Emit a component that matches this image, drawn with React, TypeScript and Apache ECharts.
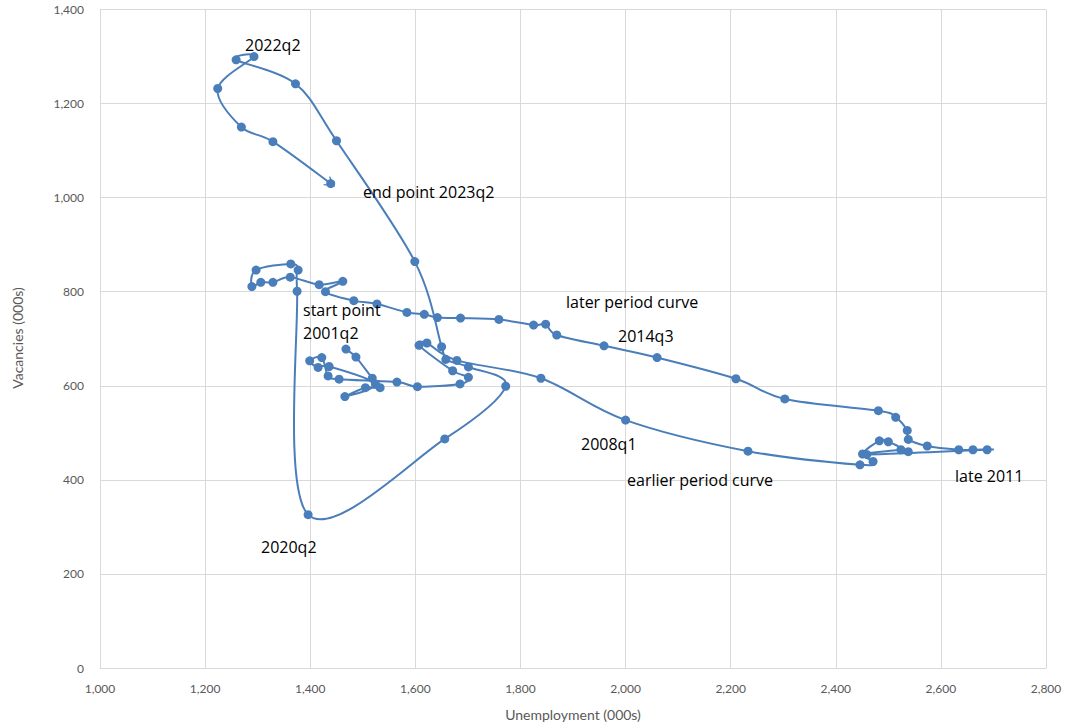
import React, { useEffect, useRef } from "react";
import * as echarts from "echarts";

// Unemployment (000s), quarterly path 2001q2 -> 2023q2
const unemployment = [
  1468, 1487, 1518, 1533, 1505, 1466, 1524, 1436, 1415, 1399, 1422, 1434, 1455,
  1565, 1604, 1685, 1701, 1671, 1607, 1622, 1679, 1839, 2000, 2233, 2446, 2471,
  2451, 2483, 2500, 2538, 2524, 2459, 2688, 2661, 2634, 2574, 2538, 2536, 2514,
  2481, 2303, 2210, 2060, 1959, 1869, 1848, 1825, 1759, 1686, 1642, 1617, 1584,
  1527, 1483, 1429, 1462, 1417, 1362, 1329, 1306, 1289, 1297, 1363, 1377, 1375,
  1396, 1656, 1772, 1701, 1658, 1650, 1599, 1450, 1372, 1259, 1293, 1224, 1269,
  1329, 1439,
];
// Vacancies (000s)
const vacancies = [
  678, 661, 616, 596, 596, 577, 604, 641, 639, 653, 660, 621, 614,
  608, 598, 604, 618, 632, 686, 691, 654, 616, 527, 461, 432, 439,
  455, 483, 481, 460, 464, 454, 464, 464, 464, 472, 486, 505, 533,
  547, 572, 615, 660, 685, 708, 731, 729, 741, 744, 745, 752, 756,
  774, 781, 800, 822, 815, 831, 820, 820, 811, 846, 859, 846, 801,
  326, 487, 599, 640, 656, 683, 864, 1121, 1242, 1293, 1300, 1232, 1150,
  1119, 1030,
];

const xTicks = { min: 1000, max: 2800, interval: 200 };
const yTicks = { min: 0, max: 1400, interval: 200 };

const annotationTexts = [
  "2022q2",
  "end point 2023q2",
  "later period curve",
  "start point",
  "2001q2",
  "2014q3",
  "2008q1",
  "earlier period curve",
  "late 2011",
  "2020q2",
];

const LINE_COLOR = "#4a7ebb";
const GRID_COLOR = "#d9d9d9";
const AXIS_TEXT = "#595959";
const FONT = "Lato, 'Open Sans', sans-serif";
const ANN_FONT = "'Open Sans', Lato, sans-serif";

export default function App() {
  const ref = useRef<HTMLDivElement>(null);

  useEffect(() => {
    if (!ref.current) return;
    const chart = echarts.init(ref.current, undefined, { renderer: "svg" });
    const data = unemployment.map((u, i) => [u, vacancies[i]]);
    const n = data.length;

    const annPos: Array<[number, number]> = [
      [245, 46],
      [363, 193],
      [566, 303],
      [303, 311],
      [303, 334],
      [618, 337],
      [581, 445],
      [627, 481],
      [955, 477],
      [261, 548],
    ];

    const fmt = (v: number) => v.toLocaleString("en-US");

    // Excel-like smoothed connector (Catmull-Rom -> cubic Bezier), positioned via the axes
    const renderCurve = (params: any, api: any) => {
      if (params.dataIndex !== 0) return null;
      const pts = data.map((d) => api.coord(d));
      const k = 1 / 6;
      let path = `M${pts[0][0]},${pts[0][1]}`;
      for (let i = 0; i < pts.length - 1; i++) {
        const p0 = pts[i - 1] || pts[i];
        const p1 = pts[i];
        const p2 = pts[i + 1];
        const p3 = pts[i + 2] || pts[i + 1];
        const c1x = p1[0] + (p2[0] - p0[0]) * k;
        const c1y = p1[1] + (p2[1] - p0[1]) * k;
        const c2x = p2[0] - (p3[0] - p1[0]) * k;
        const c2y = p2[1] - (p3[1] - p1[1]) * k;
        path += ` C${c1x},${c1y} ${c2x},${c2y} ${p2[0]},${p2[1]}`;
      }
      return {
        type: "path",
        shape: { pathData: path },
        style: { stroke: LINE_COLOR, lineWidth: 2, fill: "none" },
      };
    };

    chart.setOption({
      animation: false,
      backgroundColor: "#ffffff",
      grid: { left: 100, right: 24, top: 9.5, bottom: 58, containLabel: false },
      xAxis: {
        type: "value",
        min: xTicks.min,
        max: xTicks.max,
        interval: xTicks.interval,
        axisLine: { show: true, lineStyle: { color: GRID_COLOR, width: 1 } },
        axisTick: { show: false },
        splitLine: { show: true, lineStyle: { color: GRID_COLOR, width: 1 } },
        axisLabel: {
          color: AXIS_TEXT,
          fontFamily: FONT,
          fontSize: 12,
          margin: 14,
          formatter: fmt,
        },
      },
      yAxis: {
        type: "value",
        min: yTicks.min,
        max: yTicks.max,
        interval: yTicks.interval,
        axisLine: { show: true, lineStyle: { color: GRID_COLOR, width: 1 } },
        axisTick: { show: false },
        splitLine: { show: true, lineStyle: { color: GRID_COLOR, width: 1 } },
        axisLabel: {
          color: AXIS_TEXT,
          fontFamily: FONT,
          fontSize: 12,
          margin: 16,
          formatter: fmt,
        },
      },
      series: [
        {
          type: "custom",
          coordinateSystem: "cartesian2d",
          data: data,
          renderItem: renderCurve,
          clip: false,
          silent: true,
          z: 2,
        },
        {
          type: "scatter",
          data,
          symbol: "circle",
          symbolSize: 9,
          itemStyle: { color: LINE_COLOR, opacity: 1 },
          z: 3,
        },
        {
          type: "lines",
          coordinateSystem: "cartesian2d",
          symbol: ["none", "path://M10,0 L20,14 L18.2,15.3 L10,4 L1.8,15.3 L0,14 Z"],
          symbolSize: [14, 11],
          lineStyle: { color: LINE_COLOR, width: 0, opacity: 1, curveness: 0 },
          data: [{ coords: [data[n - 2], data[n - 1]] }],
          z: 4,
        },
      ],
      graphic: [
        ...annotationTexts.map((t, i) => ({
          type: "text",
          left: annPos[i][0],
          top: annPos[i][1] - 9,
          style: {
            text: t,
            fill: "#000000",
            font: `16px ${ANN_FONT}`,
          },
          z: 10,
        })),
        {
          type: "text",
          x: 17,
          y: 338,
          rotation: Math.PI / 2,
          style: {
            text: "Vacancies (000s)",
            fill: AXIS_TEXT,
            font: `14px ${FONT}`,
            align: "center",
            verticalAlign: "middle",
          },
        },
        {
          type: "text",
          x: 573,
          y: 714,
          style: {
            text: "Unemployment (000s)",
            fill: AXIS_TEXT,
            font: `14px ${FONT}`,
            align: "center",
            verticalAlign: "middle",
          },
        },
      ],
    });

    return () => chart.dispose();
  }, []);

  return (
    <div
      ref={ref}
      style={{ position: "fixed", left: 0, top: 0, width: 1070, height: 726, background: "#fff" }}
    />
  );
}
